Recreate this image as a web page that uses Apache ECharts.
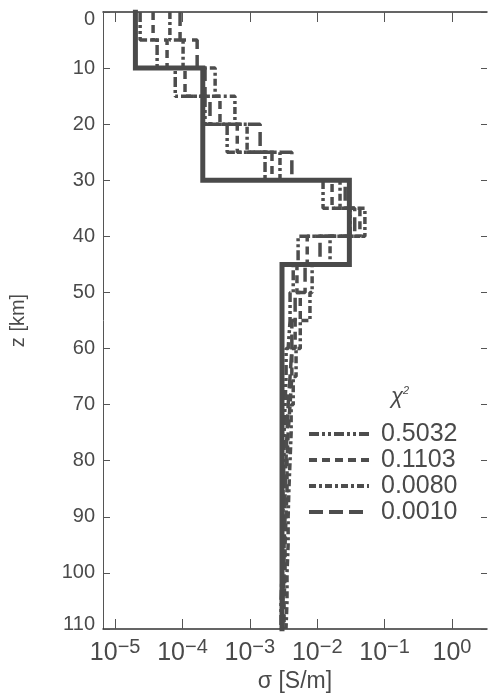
<!DOCTYPE html>
<html>
<head>
    <meta charset="utf-8">
    <title>conductivity profiles</title>
    <script src="https://cdn.jsdelivr.net/npm/echarts@6/dist/echarts.min.js"></script>
    <style>
        html, body { margin: 0; padding: 0; background: #fff; }
        #chart1 { width: 488px; height: 694px; }
    </style>
</head>
<body>
<div id="chart1"></div>
<script type="text/javascript">
    // layer boundaries [km], 5 km layers
    var depths = [0, 5, 10, 15, 20, 25, 30, 35, 40, 45, 50, 55, 60, 65, 70, 75, 80, 85, 90, 95, 100, 105, 110];

    // true model [S/m] per 5 km layer
    var sigmaTrue = [2e-5, 2e-5, 2e-4, 2e-4, 2e-4, 2e-4, 3e-2, 3e-2, 3e-2, 3e-3, 3e-3, 3e-3, 3e-3, 3e-3, 3e-3, 3e-3,
        3e-3, 3e-3, 3e-3, 3e-3, 3e-3, 3e-3];

    // inverted models, one per misfit
    var sigma5032 = [2.35e-5, 4.2e-5, 7.8e-5, 2.16e-4, 4.6e-4, 1.68e-3, 1.22e-2, 3.07e-2, 5.2e-3, 4.4e-3, 3.95e-3,
        3.7e-3, 3.45e-3, 3.33e-3, 3.22e-3, 3.22e-3, 3.1e-3, 3.1e-3, 3.0e-3, 3.0e-3, 2.9e-3, 2.9e-3];
    var sigma1103 = [3.66e-5, 5.9e-5, 1.09e-4, 3.6e-4, 6.5e-4, 2.13e-3, 1.66e-2, 4.3e-2, 7.1e-3, 5.0e-3, 5.6e-3,
        4.7e-3, 4.2e-3, 3.95e-3, 3.7e-3, 3.56e-3, 3.56e-3, 3.44e-3, 3.33e-3, 3.33e-3, 3.22e-3, 3.22e-3];
    var sigma0080 = [6.5e-5, 1.02e-4, 3.05e-4, 6.0e-4, 9.1e-4, 2.8e-3, 2.18e-2, 5.1e-2, 1.55e-2, 8.4e-3, 7.8e-3,
        5.6e-3, 4.85e-3, 4.4e-3, 4.1e-3, 3.95e-3, 3.8e-3, 3.7e-3, 3.7e-3, 3.56e-3, 3.56e-3, 3.44e-3];
    var sigma0010 = [9.2e-5, 1.65e-4, 2.16e-4, 2.56e-4, 1.42e-3, 4.2e-3, 2.6e-2, 3.6e-2, 1.1e-2, 6.6e-3, 4.7e-3,
        4.2e-3, 3.95e-3, 3.7e-3, 3.56e-3, 3.44e-3, 3.33e-3, 3.33e-3, 3.22e-3, 3.22e-3, 3.1e-3, 3.1e-3];

    var misfitNames = ['0.5032', '0.1103', '0.0080', '0.0010'];
    var xTicks = [1e-5, 1e-4, 1e-3, 1e-2, 1e-1, 1];

    var textColor = '#4a4a4a';
    var lineColor = '#4d4d4d';
    var font = 'Liberation Sans';

    // staircase: every layer gives a top and a bottom point
    function steps(sig) {
        var pts = [];
        for (var i = 0; i < sig.length; i++) {
            pts.push([sig[i], depths[i]]);
            pts.push([sig[i], depths[i + 1]]);
        }
        return pts;
    }

    function powLabel(v) {
        var e = Math.round(Math.log10(v));
        return '{b|10}{s|' + (e < 0 ? '\u2212' + (-e) : e) + '}';
    }

    // first and last depth labels sit inside the frame
    function depthLabel(v) {
        if (v === 0) return '{t|0}';
        if (v === 110) return '{e|110}';
        return v;
    }

    function dashed(name, sig, dash) {
        return {
            name: name,
            type: 'line',
            data: steps(sig),
            symbol: 'none',
            showSymbol: false,
            lineStyle: {color: lineColor, width: 3.5, type: dash},
            itemStyle: {color: lineColor},
            z: 2
        };
    }

    var myChart1 = echarts.init(document.getElementById('chart1'));

    myChart1.setOption({
        animation: false,
        backgroundColor: '#fff',
        textStyle: {fontFamily: font},
        title: {
            text: '\u03c7{s|2}',
            left: 386,
            top: 380,
            textStyle: {
                fontFamily: font, fontSize: 22, fontWeight: 'normal', fontStyle: 'italic', color: textColor,
                rich: {s: {fontSize: 11, fontFamily: font, color: textColor, padding: [0, 0, 12, 0]}}
            }
        },
        legend: {
            data: misfitNames,
            orient: 'vertical',
            left: 302,
            top: 416,
            itemWidth: 60,
            itemHeight: 14,
            itemGap: 0,
            itemStyle: {opacity: 0},
            lineStyle: {width: 4},
            textStyle: {fontFamily: font, fontSize: 25, lineHeight: 26, color: textColor, padding: [0, 0, 0, 7]}
        },
        grid: {left: 103, right: 1, top: 12, bottom: 65, outerBoundsMode: 'none'},
        xAxis: [{
            type: 'log',
            logBase: 10,
            min: Math.pow(10, -5.18),
            max: Math.pow(10, 0.52),
            name: '\u03c3 [S/m]',
            nameLocation: 'middle',
            nameGap: 41,
            nameTextStyle: {fontFamily: font, fontSize: 23, color: textColor},
            axisLine: {onZero: false, lineStyle: {color: '#333', width: 1.5}},
            axisTick: {inside: true, length: 10, customValues: xTicks, lineStyle: {color: '#555'}},
            axisLabel: {
                customValues: xTicks,
                formatter: powLabel,
                margin: 8,
                rich: {
                    b: {fontFamily: font, fontSize: 25, color: textColor},
                    s: {fontFamily: font, fontSize: 20, color: textColor, padding: [0, 0, 12, 0]}
                }
            },
            splitLine: {show: false}
        }, {
            type: 'log',
            logBase: 10,
            position: 'top',
            min: Math.pow(10, -5.18),
            max: Math.pow(10, 0.52),
            axisLine: {onZero: false, lineStyle: {color: '#333', width: 1.5}},
            axisTick: {inside: true, length: 10, customValues: xTicks, lineStyle: {color: '#555'}},
            axisLabel: {show: false},
            splitLine: {show: false}
        }],
        yAxis: [{
            type: 'value',
            inverse: true,
            min: 0,
            max: 110,
            interval: 10,
            name: 'z [km]',
            nameLocation: 'middle',
            nameRotate: 90,
            nameGap: 75,
            nameTextStyle: {fontFamily: font, fontSize: 20, color: textColor},
            axisLine: {lineStyle: {color: '#555', width: 1}},
            axisTick: {inside: true, length: 7, lineStyle: {color: '#555'}},
            axisLabel: {
                fontFamily: font, fontSize: 20, color: textColor, margin: 8,
                formatter: depthLabel,
                rich: {
                    t: {fontFamily: font, fontSize: 20, color: textColor, padding: [14, 0, 0, 0]},
                    e: {fontFamily: font, fontSize: 20, color: textColor, padding: [0, 0, 10, 0]}
                }
            },
            splitLine: {show: false}
        }, {
            type: 'value',
            inverse: true,
            position: 'right',
            min: 0,
            max: 110,
            interval: 10,
            axisLine: {show: false},
            axisTick: {show: true, inside: true, length: 6, lineStyle: {color: '#555'}},
            axisLabel: {show: false},
            splitLine: {show: false}
        }],
        series: [
            dashed(misfitNames[0], sigma5032, [10, 3, 3, 3, 3, 3]),
            dashed(misfitNames[1], sigma1103, [8, 5]),
            dashed(misfitNames[2], sigma0080, [7, 3, 3, 3]),
            dashed(misfitNames[3], sigma0010, [14, 6]),
            {
                name: 'true',
                type: 'line',
                data: steps(sigmaTrue),
                symbol: 'none',
                lineStyle: {color: '#4a4a4a', width: 5, cap: 'square', join: 'miter'},
                z: 3
            }
        ]
    });
</script>
</body>
</html>
